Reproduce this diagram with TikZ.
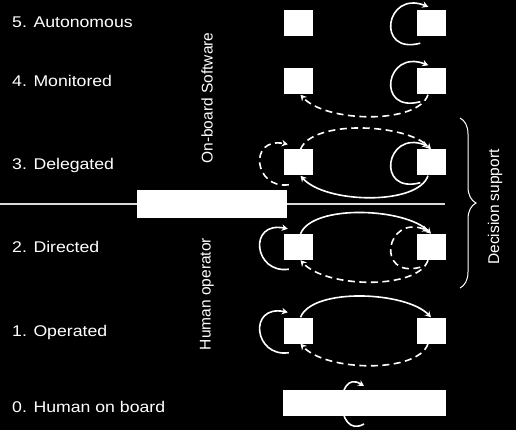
\documentclass[tikz,border=0pt]{standalone}
\usepackage{fontspec}
\setmainfont{Liberation Sans}
\usetikzlibrary{arrows.meta,decorations.pathreplacing}
\begin{document}
\begin{tikzpicture}[x=1pt,y=-1pt,
  lbl/.style={text=white, inner sep=0pt, font=\fontsize{15.5}{18}\selectfont},
  rowlbl/.style={lbl, xscale=1.14, anchor=base west},
  unit/.style={fill=white, minimum width=29pt, minimum height=26pt, inner sep=0pt},
  sol/.style={white, line width=1.6pt, -{Stealth[length=6pt,width=6.5pt]}},
  dsh/.style={sol, dash pattern=on 7pt off 4.5pt}]
  \useasboundingbox (0,0) rectangle (516,430);
  \fill[black] (0,0) rectangle (516,430);
  \coordinate (lnW) at (0,204);
  \coordinate (lnE) at (445,204);
  \draw[white!85!black, line width=1.2pt] (lnW) -- (lnE);
  \node[fill=white, minimum width=150pt, minimum height=28pt, inner sep=0pt] (hand) at (212,204) {};
  \foreach \r/\y in {5/23,4/81.5,3/162.5,2/247,1/330.5} {
    \node[unit] (l\r) at (298.5,\y) {};
    \node[unit] (r\r) at (431,\y) {};
  }
  \coordinate (c0a) at (364,424);
  \coordinate (c0b) at (364,386);
  \draw[sol] (c0a) .. controls +(-29,16) and +(-29,-18) .. (c0b);
  \node[fill=white, minimum width=163pt, minimum height=26pt, inner sep=0pt] (bar0) at (364.5,403) {};
  \foreach \r/\y/\lab in {5/28/Autonomous,4/87/Monitored,3/170/Delegated,2/252/Directed,1/336/Operated,0/412/Human on board} {
    \node[rowlbl] (lab\r) at (12,\y) {\r. \lab};
  }
  \node[lbl, rotate=90] (soft) at (207,98) {On-board Software};
  \node[lbl, rotate=90] (human) at (207,294) {Human operator};
  \foreach \bx/\st in {r5/sol,r4/sol,r3/sol,r2/dsh} {
    \draw[\st] ([shift={(4,7)}]\bx.south west) .. controls +(-45,12) and +(-43,-17) .. ([shift={(12,-3)}]\bx.north west);
  }
  \foreach \bx/\st in {l3/dsh,l2/sol,l1/sol} {
    \draw[\st] ([shift={(5,9)}]\bx.south west) .. controls +(-35,5) and +(-40,-8) .. ([shift={(4,-5)}]\bx.north west);
  }
  \foreach \r/\st in {3/dsh,2/sol,1/sol} {
    \draw[\st] ([xshift=2pt]l\r.north) .. controls +(12,-30) and +(-25,-26) .. (r\r.north);
  }
  \foreach \r/\st in {4/dsh,3/sol,2/dsh,1/dsh} {
    \draw[\st] ([xshift=-3pt]r\r.south) .. controls +(-10,30) and +(25,28) .. ([xshift=2pt]l\r.south);
  }
  \coordinate (bt) at (460,118);
  \coordinate (bb) at (460,288);
  \draw[white, line width=1pt, decorate, decoration={brace, amplitude=16pt}] (bt) -- (bb);
  \node[lbl, rotate=90] (dec) at (495,207) {Decision support};
\end{tikzpicture}
\end{document}
